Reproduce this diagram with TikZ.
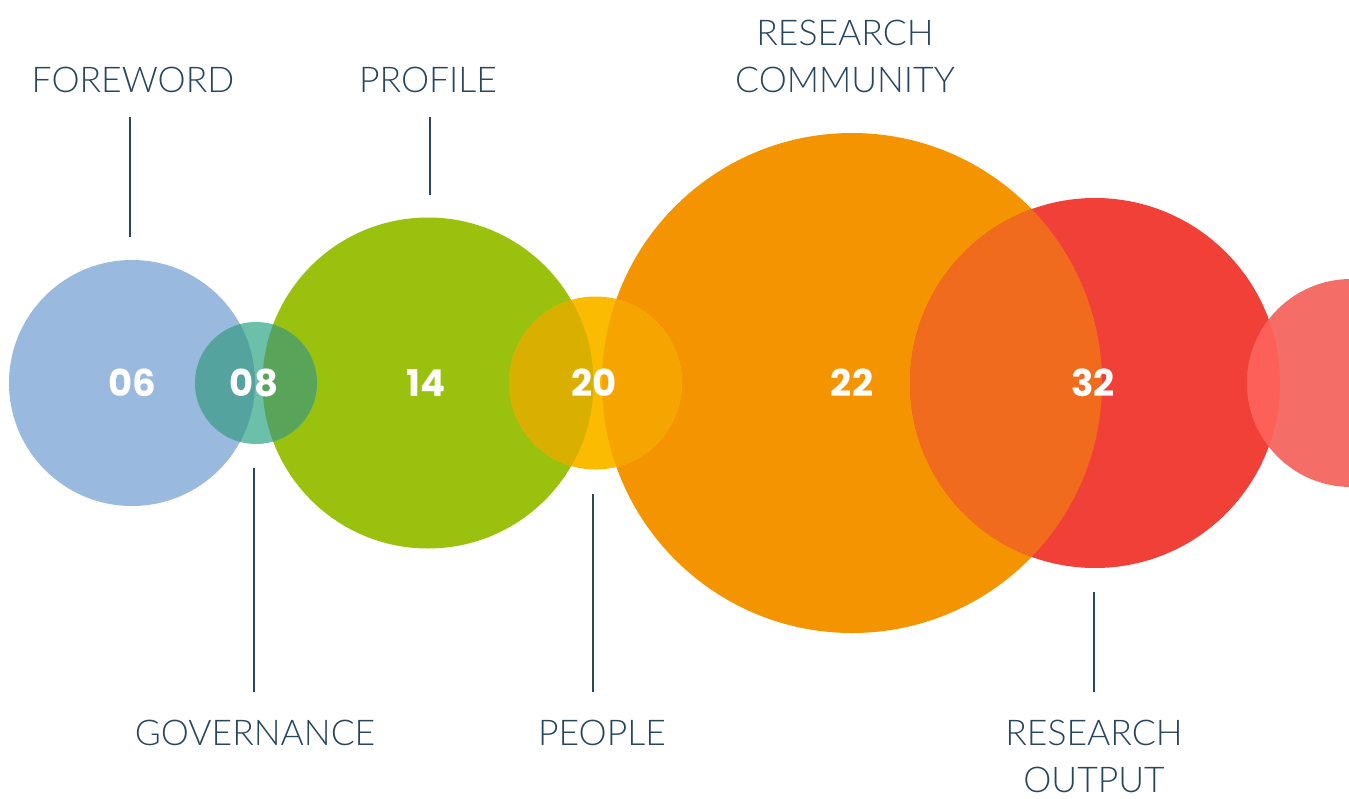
\documentclass[tikz,border=0pt]{standalone}
\usepackage{fontspec}
\setmainfont{Lato}
\newfontfamily\lblfont{Lato Light}
\newfontfamily\numfont{Poppins}
\definecolor{navy}{RGB}{40,70,92}
\definecolor{blu}{RGB}{154,185,222}
\definecolor{tea}{RGB}{108,191,169}
\definecolor{grn}{RGB}{154,193,14}
\definecolor{yel}{RGB}{250,187,0}
\definecolor{org}{RGB}{243,148,0}
\definecolor{rd}{RGB}{240,64,56}
\definecolor{sal}{RGB}{244,110,103}
% overlap tints
\definecolor{bluXtea}{RGB}{85,163,158}
\definecolor{teaXgrn}{RGB}{88,165,90}
\definecolor{grnXyel}{RGB}{217,175,0}
\definecolor{yelXorg}{RGB}{246,165,0}
\definecolor{orgXrd}{RGB}{240,107,30}
\definecolor{rdXsal}{RGB}{252,96,88}
\tikzset{
  disc/.style={circle, inner sep=0pt, minimum size=#1, text=white,
    font=\numfont\bfseries\fontsize{37}{37}\selectfont},
  lbl/.style={text=navy, anchor=base, inner sep=0pt,
    font=\lblfont\fontsize{35.5}{47}\selectfont},
  lead/.style={navy, line width=1.4pt}
}
\newcommand\overlap[5]{% centre A, radius A, centre B, radius B, colour
  \begin{scope}
    \clip (#1) circle[radius=#2];
    \fill[#5] (#3) circle[radius=#4];
  \end{scope}}
\begin{document}
\begin{tikzpicture}[x=1pt,y=-1pt]
		\useasboundingbox (0,0) rectangle (1349,798);

		% circles
		\node[disc=246pt, fill=blu] (c06) at (132,383) {};
		\node[disc=331pt, fill=grn] (c14) at (428,383) {};
		\node[disc=500pt, fill=org] (c22) at (852,383) {};
		\node[disc=122pt, fill=tea] (c08) at (256,383) {};
		\node[disc=173pt, fill=yel] (c20) at (595.5,383) {};
		\node[disc=370pt, fill=rd] (c32) at (1095,383) {};
		\node[disc=208pt, fill=sal] (cend) at (1351,383) {};

		% overlaps
		\overlap{c06.center}{123pt}{c08.center}{61pt}{bluXtea}
		\overlap{c14.center}{165.5pt}{c08.center}{61pt}{teaXgrn}
		\overlap{c14.center}{165.5pt}{c20.center}{86.5pt}{grnXyel}
		\overlap{c22.center}{250pt}{c20.center}{86.5pt}{yelXorg}
		\overlap{c22.center}{250pt}{c32.center}{185pt}{orgXrd}
		\overlap{c32.center}{185pt}{cend.center}{104pt}{rdXsal}

		% numbers
		\node[disc=1pt] (n06) at (132,383) {06};
		\node[disc=1pt] (n08) at (254,383) {08};
		\node[disc=1pt] (n14) at (426,383) {14};
		\node[disc=1pt] (n20) at (594,383) {20};
		\node[disc=1pt] (n22) at (852,383) {22};
		\node[disc=1pt] (n32) at (1093,383) {32};

		% labels
		\node[lbl] (foreword) at (133,92) {FOREWORD};
		\node[lbl] (profile) at (428,92) {PROFILE};
		\node[lbl] (community) at (845,92) {COMMUNITY};
		\node[lbl] (research1) at (845,45) {RESEARCH};
		\node[lbl] (governance) at (255,745) {GOVERNANCE};
		\node[lbl] (people) at (602,745) {PEOPLE};
		\node[lbl] (research2) at (1094,745) {RESEARCH};
		\node[lbl] (output) at (1094,792) {OUTPUT};

		% leader lines
		\coordinate (fw-a) at (130,117);
		\coordinate (fw-b) at (130,237);
		\coordinate (pr-a) at (430,117);
		\coordinate (pr-b) at (430,195);
		\coordinate (gv-a) at (254,468);
		\coordinate (gv-b) at (254,692);
		\coordinate (pe-a) at (593,494);
		\coordinate (pe-b) at (593,692);
		\coordinate (ro-a) at (1094,592);
		\coordinate (ro-b) at (1094,692);
		\draw[lead] (fw-a) -- (fw-b);
		\draw[lead] (pr-a) -- (pr-b);
		\draw[lead] (gv-a) -- (gv-b);
		\draw[lead] (pe-a) -- (pe-b);
		\draw[lead] (ro-a) -- (ro-b);
	\end{tikzpicture}
\end{document}
